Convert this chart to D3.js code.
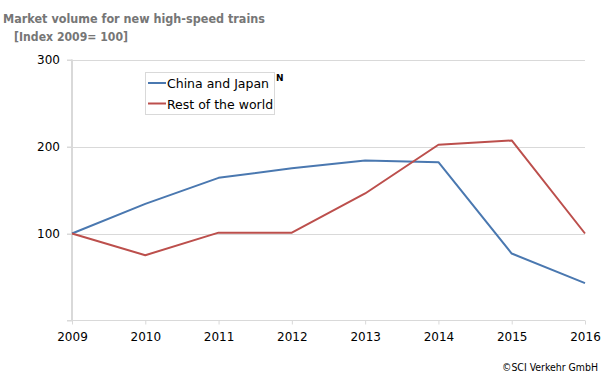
<!DOCTYPE html>
<html><head><meta charset="utf-8">
<script src="https://cdn.jsdelivr.net/npm/d3@7"></script>
<style>body{margin:0;background:#fff}svg{display:block}text{font-family:"DejaVu Sans",sans-serif}</style>
</head><body><svg id="c" width="605" height="376"></svg>
<script>
const years = [2009, 2010, 2011, 2012, 2013, 2014, 2015, 2016];
const chinaJapan = [100, 134, 164, 175, 184, 182, 77, 43];
const restOfWorld = [100, 75, 101, 101, 146, 202, 207, 100];
const yTicks = [100, 200, 300];
const seriesNames = ["China and Japan", "Rest of the world"];
const colors = ["#4a78b0", "#bc4f4c"];

const svg = d3.select("#c");
const x = d3.scaleLinear().domain([2009, 2016]).range([72, 585]);
const y = d3.scaleLinear().domain([0, 300]).range([320.5, 59.5]);

// gridlines
svg.append("g").selectAll("line").data(yTicks).join("line")
  .attr("x1", 67).attr("x2", 585)
  .attr("y1", d => Math.round(y(d)) + 0.5).attr("y2", d => Math.round(y(d)) + 0.5)
  .attr("stroke", "#d9d9d9").attr("stroke-width", 1);

// y axis
const ya = svg.append("g").attr("transform", "translate(72,0)")
  .call(d3.axisLeft(y).tickValues([0, ...yTicks]).tickSize(5).tickFormat(d => d === 0 ? "" : d));
ya.select(".domain").attr("stroke", "#d9d9d9").attr("stroke-width", 2).attr("d", "M0,59.5V320.5");
ya.selectAll(".tick line").attr("stroke", "#d9d9d9");
ya.selectAll(".tick text").attr("font-size", 12).attr("fill", "#000").attr("x", -12).attr("font-family", "DejaVu Sans");

// x axis
const xa = svg.append("g").attr("transform", "translate(0,320.5)")
  .call(d3.axisBottom(x).tickValues(years).tickSize(4).tickFormat(d3.format("d")));
xa.select(".domain").attr("stroke", "#d9d9d9").attr("d", "M67,0H585");
xa.selectAll(".tick line").attr("stroke", "#d9d9d9");
xa.selectAll(".tick text").attr("font-size", 12).attr("fill", "#000").attr("y", 11.5).attr("font-family", "DejaVu Sans");

// lines
const line = d3.line().x((d, i) => x(years[i])).y(d => y(d));
[chinaJapan, restOfWorld].forEach((s, i) => {
  svg.append("path").datum(s).attr("d", line).attr("fill", "none")
    .attr("stroke", colors[i]).attr("stroke-width", 2).attr("stroke-linejoin", "round");
});

// legend
svg.append("rect").attr("x", 145.5).attr("y", 72.5).attr("width", 129).attr("height", 42)
  .attr("fill", "#fff").attr("stroke", "#d9d9d9");
seriesNames.forEach((n, i) => {
  const yy = 83 + i * 20.5;
  svg.append("line").attr("x1", 148).attr("x2", 166).attr("y1", yy).attr("y2", yy)
    .attr("stroke", colors[i]).attr("stroke-width", 2);
  svg.append("text").attr("x", 167).attr("y", yy + 5).attr("font-size", 12.5).attr("fill", "#000").text(n);
});
svg.append("text").attr("x", 276).attr("y", 81).attr("font-size", 9).attr("font-weight", "bold").text("N");

// title
svg.append("text").attr("x", 3).attr("y", 23).attr("font-size", 12.5).attr("font-weight", "bold")
  .attr("fill", "#767676").attr("textLength", 262).attr("lengthAdjust", "spacingAndGlyphs")
  .text("Market volume for new high-speed trains");
svg.append("text").attr("x", 14).attr("y", 41).attr("font-size", 12.5).attr("font-weight", "bold")
  .attr("fill", "#767676").attr("textLength", 114).attr("lengthAdjust", "spacingAndGlyphs")
  .text("[Index 2009= 100]");
svg.append("text").attr("x", 502).attr("y", 371).attr("font-size", 10)
  .attr("fill", "#000").attr("textLength", 96).attr("lengthAdjust", "spacingAndGlyphs")
  .text("©SCI Verkehr GmbH");
</script></body></html>
